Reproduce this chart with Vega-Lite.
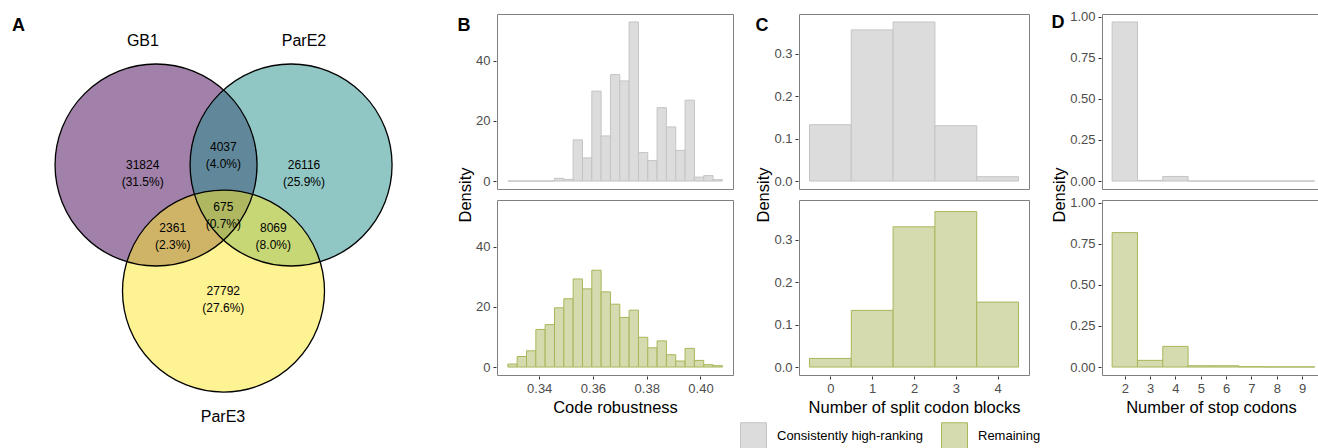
{
  "$schema": "https://vega.github.io/schema/vega-lite/v6.json",
  "padding": {"left": 0, "right": 0, "top": 10, "bottom": 0},
  "config": {
    "font": "Liberation Sans",
    "view": {"stroke": "#7f7f7f", "strokeWidth": 1},
    "axis": {"grid": false, "domain": false, "minExtent": 0, "tickColor": "#333333", "tickSize": 3, "labelColor": "#4d4d4d", "labelFontSize": 13, "labelPadding": 3, "labelFlush": false, "titleFontSize": 16.5, "titleFontWeight": "normal", "titleColor": "#000000", "titlePadding": 4},
    "header": {"titleFontSize": 16.5, "titleFontWeight": "normal", "titleColor": "#000000", "titlePadding": -9, "labels": false},
    "title": {"fontSize": 18, "fontWeight": "bold", "anchor": "start", "frame": "bounds", "color": "#000000", "offset": -21}
  },
  "datasets": {
    "circles": [
      {"set": "GB1", "cx": 0, "cy": 0},
      {"set": "ParE2", "cx": 1.337, "cy": 0},
      {"set": "ParE3", "cx": 0.668, "cy": -1.248}
    ],
    "setlabels": [
      {"set": "GB1", "lx": -0.13, "ly": 1.228},
      {"set": "ParE2", "lx": 1.465, "ly": 1.228},
      {"set": "ParE3", "lx": 0.663, "ly": -2.495}
    ],
    "regions": [
      {"label": "31824\n(31.5%)", "rx": -0.132, "ry": 0},
      {"label": "4037\n(4.0%)", "rx": 0.666, "ry": 0.178},
      {"label": "26116\n(25.9%)", "rx": 1.465, "ry": 0},
      {"label": "675\n(0.7%)", "rx": 0.666, "ry": -0.42},
      {"label": "2361\n(2.3%)", "rx": 0.165, "ry": -0.622},
      {"label": "8069\n(8.0%)", "rx": 1.161, "ry": -0.622},
      {"label": "27792\n(27.6%)", "rx": 0.666, "ry": -1.248}
    ],
    "robust": [
      {"group": "Consistently high-ranking", "x0": 0.32834, "x1": 0.33181, "density": 0},
      {"group": "Consistently high-ranking", "x0": 0.33181, "x1": 0.33528, "density": 0},
      {"group": "Consistently high-ranking", "x0": 0.33528, "x1": 0.33875, "density": 0},
      {"group": "Consistently high-ranking", "x0": 0.33875, "x1": 0.34222, "density": 0},
      {"group": "Consistently high-ranking", "x0": 0.34222, "x1": 0.34569, "density": 0},
      {"group": "Consistently high-ranking", "x0": 0.34569, "x1": 0.34916, "density": 0.9},
      {"group": "Consistently high-ranking", "x0": 0.34916, "x1": 0.35263, "density": 0.55},
      {"group": "Consistently high-ranking", "x0": 0.35263, "x1": 0.3561, "density": 13.7},
      {"group": "Consistently high-ranking", "x0": 0.3561, "x1": 0.35957, "density": 7.7},
      {"group": "Consistently high-ranking", "x0": 0.35957, "x1": 0.36304, "density": 29.9},
      {"group": "Consistently high-ranking", "x0": 0.36304, "x1": 0.36651, "density": 15.0},
      {"group": "Consistently high-ranking", "x0": 0.36651, "x1": 0.36998, "density": 35.4},
      {"group": "Consistently high-ranking", "x0": 0.36998, "x1": 0.37345, "density": 33.3},
      {"group": "Consistently high-ranking", "x0": 0.37345, "x1": 0.37692, "density": 52.9},
      {"group": "Consistently high-ranking", "x0": 0.37692, "x1": 0.38039, "density": 9.5},
      {"group": "Consistently high-ranking", "x0": 0.38039, "x1": 0.38386, "density": 6.8},
      {"group": "Consistently high-ranking", "x0": 0.38386, "x1": 0.38733, "density": 24.4},
      {"group": "Consistently high-ranking", "x0": 0.38733, "x1": 0.3908, "density": 18.0},
      {"group": "Consistently high-ranking", "x0": 0.3908, "x1": 0.39427, "density": 10.2},
      {"group": "Consistently high-ranking", "x0": 0.39427, "x1": 0.39774, "density": 26.9},
      {"group": "Consistently high-ranking", "x0": 0.39774, "x1": 0.40121, "density": 1.3},
      {"group": "Consistently high-ranking", "x0": 0.40121, "x1": 0.40468, "density": 1.8},
      {"group": "Consistently high-ranking", "x0": 0.40468, "x1": 0.40815, "density": 0.45},
      {"group": "Remaining", "x0": 0.32834, "x1": 0.33181, "density": 1.0},
      {"group": "Remaining", "x0": 0.33181, "x1": 0.33528, "density": 3.5},
      {"group": "Remaining", "x0": 0.33528, "x1": 0.33875, "density": 5.4},
      {"group": "Remaining", "x0": 0.33875, "x1": 0.34222, "density": 12.5},
      {"group": "Remaining", "x0": 0.34222, "x1": 0.34569, "density": 14.1},
      {"group": "Remaining", "x0": 0.34569, "x1": 0.34916, "density": 19.7},
      {"group": "Remaining", "x0": 0.34916, "x1": 0.35263, "density": 22.7},
      {"group": "Remaining", "x0": 0.35263, "x1": 0.3561, "density": 29.3},
      {"group": "Remaining", "x0": 0.3561, "x1": 0.35957, "density": 26.0},
      {"group": "Remaining", "x0": 0.35957, "x1": 0.36304, "density": 32.2},
      {"group": "Remaining", "x0": 0.36304, "x1": 0.36651, "density": 25.0},
      {"group": "Remaining", "x0": 0.36651, "x1": 0.36998, "density": 20.9},
      {"group": "Remaining", "x0": 0.36998, "x1": 0.37345, "density": 16.5},
      {"group": "Remaining", "x0": 0.37345, "x1": 0.37692, "density": 18.9},
      {"group": "Remaining", "x0": 0.37692, "x1": 0.38039, "density": 9.9},
      {"group": "Remaining", "x0": 0.38039, "x1": 0.38386, "density": 6.4},
      {"group": "Remaining", "x0": 0.38386, "x1": 0.38733, "density": 8.7},
      {"group": "Remaining", "x0": 0.38733, "x1": 0.3908, "density": 4.1},
      {"group": "Remaining", "x0": 0.3908, "x1": 0.39427, "density": 2.0},
      {"group": "Remaining", "x0": 0.39427, "x1": 0.39774, "density": 6.2},
      {"group": "Remaining", "x0": 0.39774, "x1": 0.40121, "density": 2.2},
      {"group": "Remaining", "x0": 0.40121, "x1": 0.40468, "density": 0.8},
      {"group": "Remaining", "x0": 0.40468, "x1": 0.40815, "density": 0.45}
    ],
    "split": [
      {"group": "Consistently high-ranking", "x0": -0.5, "x1": 0.5, "density": 0.1328},
      {"group": "Consistently high-ranking", "x0": 0.5, "x1": 1.5, "density": 0.3563},
      {"group": "Consistently high-ranking", "x0": 1.5, "x1": 2.5, "density": 0.375},
      {"group": "Consistently high-ranking", "x0": 2.5, "x1": 3.5, "density": 0.1305},
      {"group": "Consistently high-ranking", "x0": 3.5, "x1": 4.5, "density": 0.0102},
      {"group": "Remaining", "x0": -0.5, "x1": 0.5, "density": 0.0203},
      {"group": "Remaining", "x0": 0.5, "x1": 1.5, "density": 0.1336},
      {"group": "Remaining", "x0": 1.5, "x1": 2.5, "density": 0.3305},
      {"group": "Remaining", "x0": 2.5, "x1": 3.5, "density": 0.3664},
      {"group": "Remaining", "x0": 3.5, "x1": 4.5, "density": 0.1531}
    ],
    "stops": [
      {"group": "Consistently high-ranking", "x0": 1.5, "x1": 2.5, "density": 0.968},
      {"group": "Consistently high-ranking", "x0": 2.5, "x1": 3.5, "density": 0.004},
      {"group": "Consistently high-ranking", "x0": 3.5, "x1": 4.5, "density": 0.028},
      {"group": "Consistently high-ranking", "x0": 4.5, "x1": 5.5, "density": 0},
      {"group": "Consistently high-ranking", "x0": 5.5, "x1": 6.5, "density": 0},
      {"group": "Consistently high-ranking", "x0": 6.5, "x1": 7.5, "density": 0},
      {"group": "Consistently high-ranking", "x0": 7.5, "x1": 8.5, "density": 0},
      {"group": "Consistently high-ranking", "x0": 8.5, "x1": 9.5, "density": 0},
      {"group": "Remaining", "x0": 1.5, "x1": 2.5, "density": 0.818},
      {"group": "Remaining", "x0": 2.5, "x1": 3.5, "density": 0.0406},
      {"group": "Remaining", "x0": 3.5, "x1": 4.5, "density": 0.1258},
      {"group": "Remaining", "x0": 4.5, "x1": 5.5, "density": 0.008},
      {"group": "Remaining", "x0": 5.5, "x1": 6.5, "density": 0.008},
      {"group": "Remaining", "x0": 6.5, "x1": 7.5, "density": 0.002},
      {"group": "Remaining", "x0": 7.5, "x1": 8.5, "density": 0.001},
      {"group": "Remaining", "x0": 8.5, "x1": 9.5, "density": 0.001}
    ]
  },
  "spacing": 21,
  "hconcat": [
    {
      "width": 436,
      "height": 410,
      "view": {"stroke": null},
      "title": {"text": "A", "dx": 12},
      "layer": [
        {
          "data": {"name": "circles"},
          "mark": {"type": "point", "shape": "circle", "filled": true, "size": 40804, "opacity": 1, "fillOpacity": 0.5, "strokeWidth": 0},
          "encoding": {
            "x": {"field": "cx", "type": "quantitative", "scale": {"domain": [-1.545, 2.772], "nice": false, "zero": false}, "axis": null},
            "y": {"field": "cy", "type": "quantitative", "scale": {"domain": [-2.564, 1.495], "nice": false, "zero": false}, "axis": null},
            "color": {"field": "set", "type": "nominal", "scale": {"domain": ["GB1", "ParE2", "ParE3"], "range": ["#440154", "#21908c", "#fde725"]}, "legend": null}
          }
        },
        {
          "data": {"name": "circles"},
          "mark": {"type": "point", "shape": "circle", "filled": false, "size": 40804, "opacity": 1, "color": "#000000", "stroke": "#000000", "strokeWidth": 1.3},
          "encoding": {
            "x": {"field": "cx", "type": "quantitative"},
            "y": {"field": "cy", "type": "quantitative"}
          }
        },
        {
          "data": {"name": "setlabels"},
          "mark": {"type": "text", "fontSize": 16, "color": "#000000"},
          "encoding": {
            "x": {"field": "lx", "type": "quantitative"},
            "y": {"field": "ly", "type": "quantitative"},
            "text": {"field": "set"}
          }
        },
        {
          "data": {"name": "regions"},
          "mark": {"type": "text", "fontSize": 12, "lineBreak": "\n", "lineHeight": 17, "color": "#000000"},
          "encoding": {
            "x": {"field": "rx", "type": "quantitative"},
            "y": {"field": "ry", "type": "quantitative"},
            "text": {"field": "label"}
          }
        }
      ]
    },
    {
      "data": {"name": "robust"},
      "title": {"text": "B"},
      "facet": {"row": {"field": "group", "type": "nominal", "title": "Density", "header": {"labels": false}}},
      "spacing": {"row": 9},
      "spec": {
        "width": 236,
        "height": 175,
        "mark": {"type": "rect", "strokeWidth": 1},
        "encoding": {
          "x": {"field": "x0", "type": "quantitative", "scale": {"domain": [0.3243, 0.4121], "nice": false, "zero": false}, "axis": {"values": [0.34, 0.36, 0.38, 0.40], "format": ".2f", "title": "Code robustness"}},
          "x2": {"field": "x1"},
          "y": {"field": "density", "type": "quantitative", "scale": {"domain": [-2.65, 55.55], "nice": false, "zero": false}, "axis": {"values": [0, 20, 40], "title": null}},
          "y2": {"datum": 0},
          "fill": {"field": "group", "type": "nominal", "scale": {"domain": ["Consistently high-ranking", "Remaining"], "range": ["#dcdcdc", "#d5dbae"]}, "legend": {"orient": "none", "legendX": 740, "legendY": 408, "direction": "horizontal", "title": null, "symbolType": "square", "symbolSize": 676, "symbolStrokeWidth": 1, "labelFontSize": 13, "labelColor": "#000000", "labelOffset": 10, "columnPadding": 16, "padding": 0}},
          "stroke": {"field": "group", "type": "nominal", "scale": {"domain": ["Consistently high-ranking", "Remaining"], "range": ["#c4c4c4", "#a9b65a"]}, "legend": {"orient": "none", "legendX": 740, "legendY": 408, "direction": "horizontal", "title": null, "symbolType": "square", "symbolSize": 676, "symbolStrokeWidth": 1, "labelFontSize": 13, "labelColor": "#000000", "labelOffset": 10, "columnPadding": 16, "padding": 0}}
        }
      }
    },
    {
      "data": {"name": "split"},
      "title": {"text": "C"},
      "facet": {"row": {"field": "group", "type": "nominal", "title": "Density", "header": {"labels": false}}},
      "spacing": {"row": 9},
      "spec": {
        "width": 230,
        "height": 175,
        "mark": {"type": "rect", "strokeWidth": 1},
        "encoding": {
          "x": {"field": "x0", "type": "quantitative", "scale": {"domain": [-0.75, 4.75], "nice": false, "zero": false}, "axis": {"values": [0, 1, 2, 3, 4], "format": "d", "title": "Number of split codon blocks"}},
          "x2": {"field": "x1"},
          "y": {"field": "density", "type": "quantitative", "scale": {"domain": [-0.01875, 0.39375], "nice": false, "zero": false}, "axis": {"values": [0, 0.1, 0.2, 0.3], "format": ".1f", "title": null}},
          "y2": {"datum": 0},
          "fill": {"field": "group", "type": "nominal"},
          "stroke": {"field": "group", "type": "nominal"}
        }
      }
    },
    {
      "data": {"name": "stops"},
      "title": {"text": "D"},
      "facet": {"row": {"field": "group", "type": "nominal", "title": "Density", "header": {"labels": false}}},
      "spacing": {"row": 9},
      "spec": {
        "width": 218,
        "height": 175,
        "mark": {"type": "rect", "strokeWidth": 1},
        "encoding": {
          "x": {"field": "x0", "type": "quantitative", "scale": {"domain": [1.1, 9.707], "nice": false, "zero": false}, "axis": {"values": [2, 3, 4, 5, 6, 7, 8, 9], "format": "d", "title": "Number of stop codons"}},
          "x2": {"field": "x1"},
          "y": {"field": "density", "type": "quantitative", "scale": {"domain": [-0.0484, 1.0164], "nice": false, "zero": false}, "axis": {"values": [0, 0.25, 0.5, 0.75, 1.0], "format": ".2f", "title": null}},
          "y2": {"datum": 0},
          "fill": {"field": "group", "type": "nominal"},
          "stroke": {"field": "group", "type": "nominal"}
        }
      }
    }
  ]
}
